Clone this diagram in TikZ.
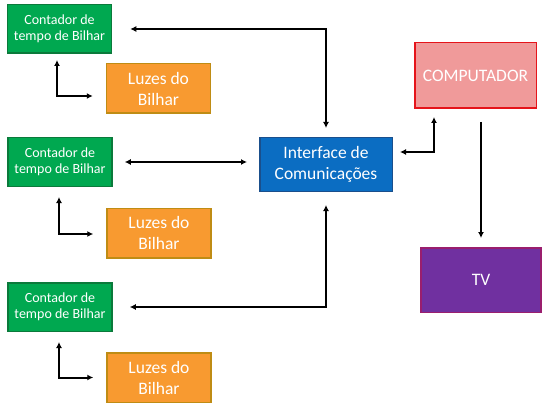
\documentclass[tikz,border=0pt]{standalone}
\usepackage{fontspec}
\setmainfont{Carlito}
\usepackage{tikz}
\usetikzlibrary{arrows.meta}
\definecolor{contfill}{HTML}{00A850}
\definecolor{contdraw}{HTML}{0B7A3B}
\definecolor{luzfill}{HTML}{F89A30}
\definecolor{luzdraw}{HTML}{BF8C14}
\definecolor{intffill}{HTML}{0B6DC2}
\definecolor{intfdraw}{HTML}{1A4F8C}
\definecolor{compfill}{HTML}{F09A9A}
\definecolor{compdraw}{HTML}{E5141B}
\definecolor{tvfill}{HTML}{7030A0}
\definecolor{tvdraw}{HTML}{9A1E6E}
\tikzset{
  caixa/.style={draw,line width=1.5pt,inner sep=0pt,align=center,text=white},
  contbox/.style={caixa,fill=contfill,draw=contdraw,minimum width=104pt,minimum height=48.5pt,font=\fontsize{14}{16}\selectfont},
  luzbox/.style={caixa,fill=luzfill,draw=luzdraw,minimum width=104pt,minimum height=49.5pt,font=\fontsize{17.5}{21}\selectfont},
  intfbox/.style={caixa,fill=intffill,draw=intfdraw,minimum width=132.5pt,minimum height=53.5pt,font=\fontsize{17.5}{21}\selectfont},
  compbox/.style={caixa,fill=compfill,draw=compdraw,minimum width=121.5pt,minimum height=65.5pt,font=\fontsize{17.5}{21}\selectfont},
  tvbox/.style={caixa,fill=tvfill,draw=tvdraw,minimum width=120pt,minimum height=64.5pt,font=\fontsize{17.5}{21}\selectfont},
  liga/.style={line width=2pt,>={Latex[length=6pt,width=6pt]}}
}
\begin{document}
\begin{tikzpicture}[x=1pt,y=-1pt]
\fill[white] (0,0) rectangle (549,409);
\useasboundingbox (0,0) rectangle (549,409);
\node[contbox] (cont1) at (59.5,29) {Contador de\\tempo de Bilhar};
\node[contbox] (cont2) at (60,162) {Contador de\\tempo de Bilhar};
\node[contbox] (cont3) at (60,307) {Contador de\\tempo de Bilhar};
\node[luzbox] (luz1) at (158.5,88.5) {Luzes do\\Bilhar};
\node[luzbox] (luz2) at (159,233) {Luzes do\\Bilhar};
\node[luzbox] (luz3) at (159,377.5) {Luzes do\\Bilhar};
\node[intfbox] (intf) at (326,164.5) {Interface de\\Comunicações};
\node[compbox] (comp) at (475.5,75.5) {COMPUTADOR};
\node[tvbox] (tv) at (481,280) {TV};
\draw[liga,<->,shorten <=9pt,shorten >=18pt] (intf.north) |- (cont1.east);
\draw[liga,<->,shorten <=12pt,shorten >=12pt] (cont2.east) -- (cont2.east -| intf.west);
\draw[liga,<->,shorten <=13pt,shorten >=17pt] (intf.south) |- (cont3.east);
\draw[liga,<->,shorten <=7pt,shorten >=8pt] ([yshift=12.5pt]intf.east) -| ([xshift=20pt]comp.south west);
\draw[liga,->,shorten <=13pt,shorten >=9pt] (comp.south -| tv.north) -- (tv.north);
\draw[liga,<->,shorten <=6pt,shorten >=13pt] ([xshift=-2.5pt]cont1.south) |- ([yshift=-7.5pt]luz1.west);
\draw[liga,<->,shorten <=10pt,shorten >=13pt] ([xshift=-1pt]cont2.south) |- ([yshift=-1pt]luz2.west);
\draw[liga,<->,shorten <=10pt,shorten >=13pt] ([xshift=-1pt]cont3.south) |- (luz3.west);
\end{tikzpicture}
\end{document}
